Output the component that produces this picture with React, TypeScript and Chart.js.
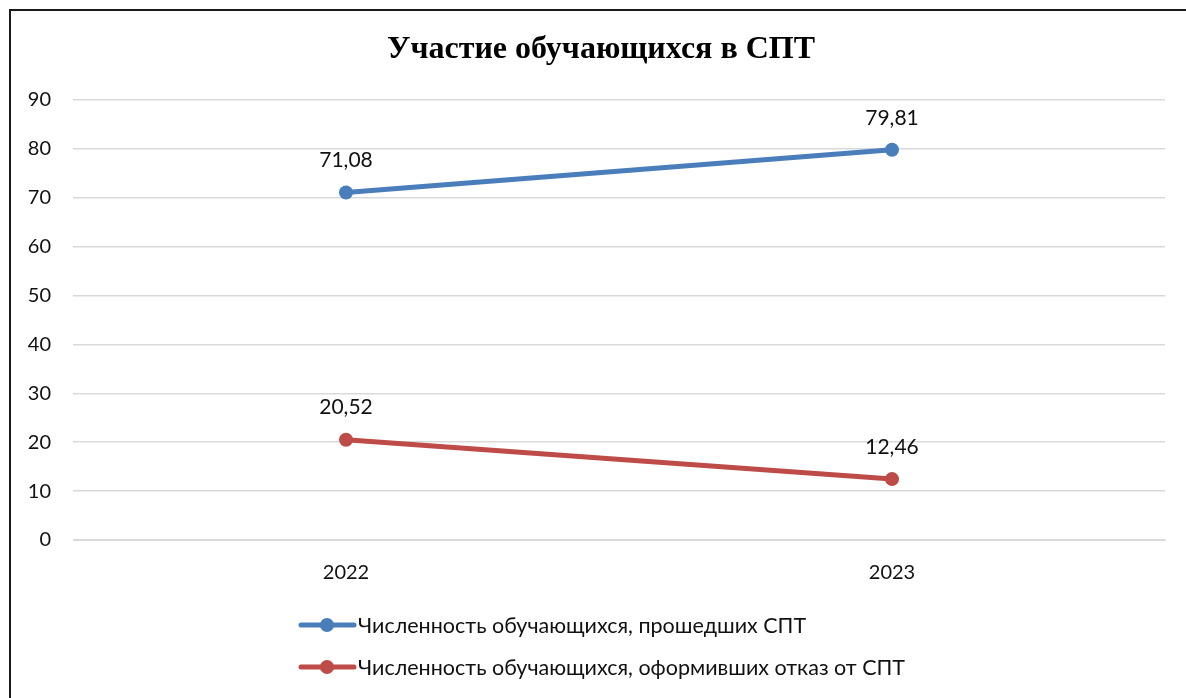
import React, { useEffect, useRef } from "react";
import { Chart, registerables } from "chart.js";

Chart.register(...registerables);

const categories = ["2022", "2023"];
const passedValues = [71.08, 79.81];
const refusedValues = [20.52, 12.46];
const seriesNames = [
  "Численность обучающихся, прошедших СПТ",
  "Численность обучающихся, оформивших отказ от СПТ",
];
const chartTitle = "Участие обучающихся в СПТ";
const blue = "#4A7EBB";
const red = "#BE4B48";
const FONT = "Lato, 'Open Sans', sans-serif";

const framePlugin = {
  id: "frame",
  beforeDraw(chart: any) {
    const ctx = chart.ctx;
    ctx.save();
    ctx.fillStyle = "#fff";
    ctx.fillRect(0, 0, chart.width, chart.height);
    ctx.strokeStyle = "#1a1a1a";
    ctx.lineWidth = 2;
    ctx.strokeRect(10, 10, chart.width + 20, chart.height + 20);
    ctx.fillStyle = "#000";
    ctx.font = "bold 32px 'Liberation Serif', serif";
    ctx.textAlign = "center";
    ctx.textBaseline = "middle";
    ctx.fillText(chartTitle, 601, 50);
    ctx.restore();
  },
  afterDatasetsDraw(chart: any) {
    const ctx = chart.ctx;
    ctx.save();
    ctx.font = `21px ${FONT}`;
    ctx.fillStyle = "#111";
    ctx.textAlign = "center";
    ctx.textBaseline = "middle";
    chart.data.datasets.forEach((ds: any, i: number) => {
      const meta = chart.getDatasetMeta(i);
      meta.data.forEach((pt: any, j: number) => {
        const v = ds.data[j] as number;
        ctx.fillText(v.toFixed(2).replace(".", ","), pt.x, pt.y - 32);
      });
    });
    // legend
    const items = [
      { color: blue, text: seriesNames[0], y: 625 },
      { color: red, text: seriesNames[1], y: 667 },
    ];
    items.forEach((it) => {
      ctx.strokeStyle = it.color;
      ctx.lineWidth = 5;
      ctx.lineCap = "round";
      ctx.beginPath();
      ctx.moveTo(301, it.y);
      ctx.lineTo(354, it.y);
      ctx.stroke();
      ctx.fillStyle = it.color;
      ctx.beginPath();
      ctx.arc(327, it.y, 7, 0, Math.PI * 2);
      ctx.fill();
      ctx.fillStyle = "#111";
      ctx.textAlign = "left";
      ctx.font = `21.5px ${FONT}`;
      ctx.fillText(it.text, 358, it.y + 1);
    });
    ctx.restore();
  },
};

export default function App() {
  const ref = useRef<HTMLCanvasElement>(null);
  useEffect(() => {
    document.body.style.margin = "0";
    const chart = new Chart(ref.current!, {
      type: "line",
      data: {
        labels: categories,
        datasets: [
          {
            label: seriesNames[0],
            data: passedValues,
            borderColor: blue,
            backgroundColor: blue,
            borderWidth: 5,
            pointRadius: 7,
            pointHoverRadius: 7,
            pointBorderWidth: 0,
          },
          {
            label: seriesNames[1],
            data: refusedValues,
            borderColor: red,
            backgroundColor: red,
            borderWidth: 5,
            pointRadius: 7,
            pointHoverRadius: 7,
            pointBorderWidth: 0,
          },
        ],
      },
      options: {
        animation: false,
        responsive: false,
        layout: { padding: { top: 100, left: 0, right: 21, bottom: 0 } },
        plugins: { legend: { display: false }, title: { display: false }, tooltip: { enabled: false } },
        scales: {
          x: {
            offset: true,
            grid: { display: false, drawTicks: false },
            border: { display: true, color: "#d9d9d9", width: 1 },
            ticks: { color: "#111", font: { family: FONT, size: 20 }, padding: 21 },
            afterFit: (s: any) => { s.height = 158; },
          },
          y: {
            min: 0,
            max: 90,
            grid: { color: "#d9d9d9", lineWidth: 1.5, drawTicks: false },
            border: { display: false },
            ticks: { stepSize: 10, color: "#111", font: { family: FONT, size: 20 }, padding: 22 },
            afterFit: (s: any) => { s.width = 73; },
          },
        },
      },
      plugins: [framePlugin],
    });
    return () => chart.destroy();
  }, []);
  return <canvas ref={ref} width={1186} height={698} style={{ display: "block" }} />;
}
